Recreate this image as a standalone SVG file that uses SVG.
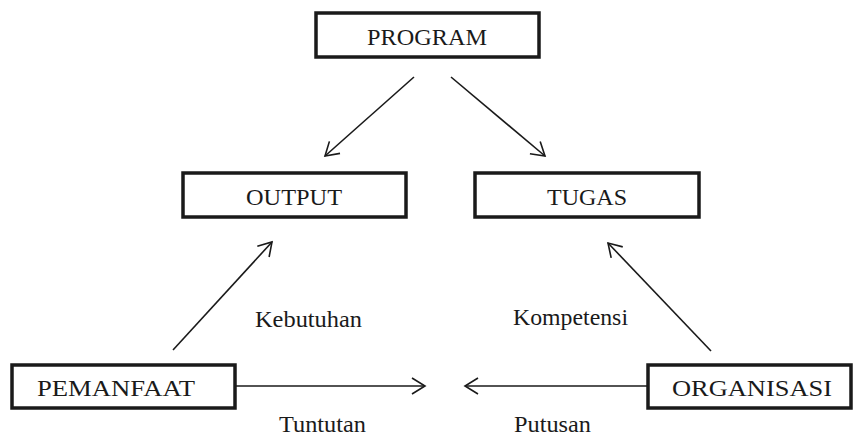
<svg xmlns="http://www.w3.org/2000/svg" width="859" height="437" viewBox="0 0 859 437">
<style>
.box{fill:#fff;stroke:#1a1a1a;stroke-width:3.5}
.lbl{font-family:"Liberation Serif","Times New Roman",serif;font-size:24px;fill:#1a1a1a;text-anchor:middle}
.edge{stroke:#1a1a1a;stroke-width:1.6;fill:none;marker-end:url(#ah)}
.elbl{font-family:"Liberation Serif","Times New Roman",serif;font-size:24px;fill:#1a1a1a}
</style>
<defs>
<marker id="ah" markerUnits="userSpaceOnUse" viewBox="-16 -10 18 20" refX="0" refY="0" markerWidth="18" markerHeight="20" orient="auto">
<path d="M-13,-8 L0,0 L-13,8" fill="none" stroke="#1a1a1a" stroke-width="1.6"/>
</marker>
</defs>
<rect width="859" height="437" fill="#fff"/>
<g id="program"><rect class="box" x="316" y="13" width="223" height="44"/><text class="lbl" x="427" y="45" textLength="120" lengthAdjust="spacingAndGlyphs">PROGRAM</text></g>
<g id="output"><rect class="box" x="183" y="173" width="223" height="44"/><text class="lbl" x="294" y="205" textLength="96" lengthAdjust="spacingAndGlyphs">OUTPUT</text></g>
<g id="tugas"><rect class="box" x="475" y="173" width="224" height="44"/><text class="lbl" x="587" y="205" textLength="80" lengthAdjust="spacingAndGlyphs">TUGAS</text></g>
<g id="pemanfaat"><rect class="box" x="12" y="365" width="223" height="43"/><text class="lbl" x="116" y="396" textLength="158" lengthAdjust="spacingAndGlyphs">PEMANFAAT</text></g>
<g id="organisasi"><rect class="box" x="648" y="365" width="203" height="43"/><text class="lbl" x="752" y="396" textLength="160" lengthAdjust="spacingAndGlyphs">ORGANISASI</text></g>
<g id="connectors">
<line class="edge" x1="414" y1="77" x2="325" y2="156"/>
<line class="edge" x1="451" y1="77" x2="545" y2="156"/>
<line class="edge" x1="173" y1="350" x2="272" y2="242"/>
<line class="edge" x1="711" y1="351" x2="608" y2="243"/>
<line class="edge" x1="235" y1="386" x2="425" y2="386"/>
<line class="edge" x1="648" y1="386" x2="465" y2="386"/>
</g>
<g id="labels">
<text class="elbl" x="255" y="327" textLength="107" lengthAdjust="spacingAndGlyphs">Kebutuhan</text>
<text class="elbl" x="513" y="325" textLength="115" lengthAdjust="spacingAndGlyphs">Kompetensi</text>
<text class="elbl" x="279" y="432" textLength="87" lengthAdjust="spacingAndGlyphs">Tuntutan</text>
<text class="elbl" x="514" y="432" textLength="77" lengthAdjust="spacingAndGlyphs">Putusan</text>
</g>
</svg>
